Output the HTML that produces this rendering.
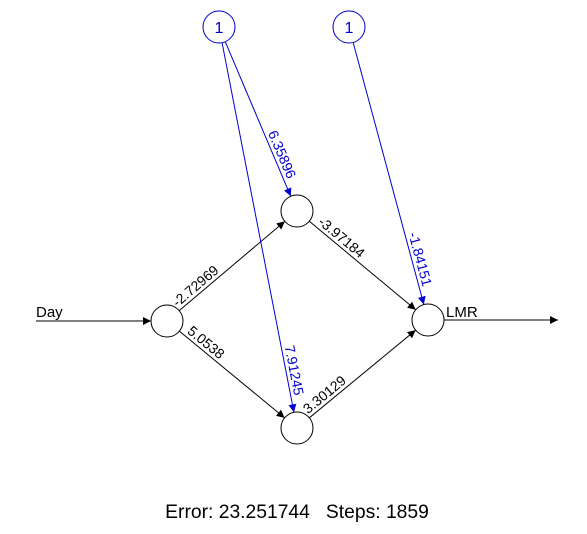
<!DOCTYPE html>
<html><head><meta charset="utf-8"><style>
html,body{margin:0;padding:0;background:#fff}
svg{display:block;font-family:"Liberation Sans",Arial,sans-serif}
</style></head><body>
<svg id="net" width="587" height="534" viewBox="0 0 587 534">
<defs>
<marker id="ak" markerWidth="8" markerHeight="8" refX="8" refY="4" orient="auto" markerUnits="userSpaceOnUse"><path d="M0,0 L8,4 L0,8 z" fill="#000"/></marker>
<marker id="ab" markerWidth="8" markerHeight="8" refX="8" refY="4" orient="auto" markerUnits="userSpaceOnUse"><path d="M0,0 L8,4 L0,8 z" fill="#0000cc"/></marker>
</defs>
<g id="edges"></g>
<g id="nodes"></g>
<text x="36" y="317" font-size="15" fill="#000">Day</text>
<text x="446" y="317" font-size="15" fill="#000">LMR</text>
<text x="297" y="518" font-size="19.3" text-anchor="middle" fill="#000" xml:space="preserve">Error: 23.251744   Steps: 1859</text>
</svg>
<script>
// weights
const weightLabels = ["-2.72969","5.0538","-3.97184","3.30129","6.35896","7.91245","-1.84151"];
const edgeFrom = ["in","in","h1","h2","b1","b1","b2"];
const edgeTo   = ["h1","h2","out","out","h1","h2","out"];
const edgeT    = [0.26,0.26,0.3,0.25,0.71,0.86,0.8];
const nodes = {in:[167,321],h1:[297,211],h2:[297,428],out:[428,320],b1:[219,27],b2:[349,27]};
const R = 16;
const NS="http://www.w3.org/2000/svg";
const eg=document.getElementById('edges'), ng=document.getElementById('nodes');
function mk(t,a){const e=document.createElementNS(NS,t);for(const k in a)e.setAttribute(k,a[k]);return e;}
let l=mk('line',{x1:36,y1:321,x2:151,y2:321,stroke:'#000','stroke-width':1,'marker-end':'url(#ak)'});


eg.appendChild(l);
l=mk('line',{x1:444,y1:320,x2:558,y2:320,stroke:'#000','stroke-width':1,'marker-end':'url(#ak)'});


eg.appendChild(l);
for(let i=0;i<weightLabels.length;i++){
  const a=nodes[edgeFrom[i]], b=nodes[edgeTo[i]];
  const dx=b[0]-a[0], dy=b[1]-a[1], L=Math.hypot(dx,dy), ux=dx/L, uy=dy/L;
  const bias=edgeFrom[i][0]==='b';
  const col=bias?'#0000cc':'#000';
  const x1=a[0]+ux*R,y1=a[1]+uy*R,x2=b[0]-ux*R,y2=b[1]-uy*R;
  const ln=mk('line',{x1:x1,y1:y1,x2:x2,y2:y2,stroke:col,'stroke-width':1,'marker-end':bias?'url(#ab)':'url(#ak)'});
  
  
  eg.appendChild(ln);
  const t=edgeT[i], cx=a[0]+dx*t, cy=a[1]+dy*t;
  const ang=Math.atan2(dy,dx)*180/Math.PI;
  const tx=mk('text',{x:cx,y:cy,dy:-3.5,'text-anchor':'middle','font-size':14,fill:col,transform:'rotate('+ang+' '+cx+' '+cy+')'});
  tx.textContent=weightLabels[i];
  
  
  eg.appendChild(tx);
}
for(const k in nodes){
  const p=nodes[k], bias=k[0]==='b';
  const c=mk('circle',{cx:p[0],cy:p[1],r:R,fill:'#fff',stroke:bias?'#0000cc':'#000','stroke-width':1});
  
  
  ng.appendChild(c);
  if(bias){
    const t=mk('text',{x:p[0],y:p[1]+6,'text-anchor':'middle','font-size':16,fill:'#0000cc'});
    t.textContent='1';
    
    
    ng.appendChild(t);
  }
}
</script>
</body></html>
